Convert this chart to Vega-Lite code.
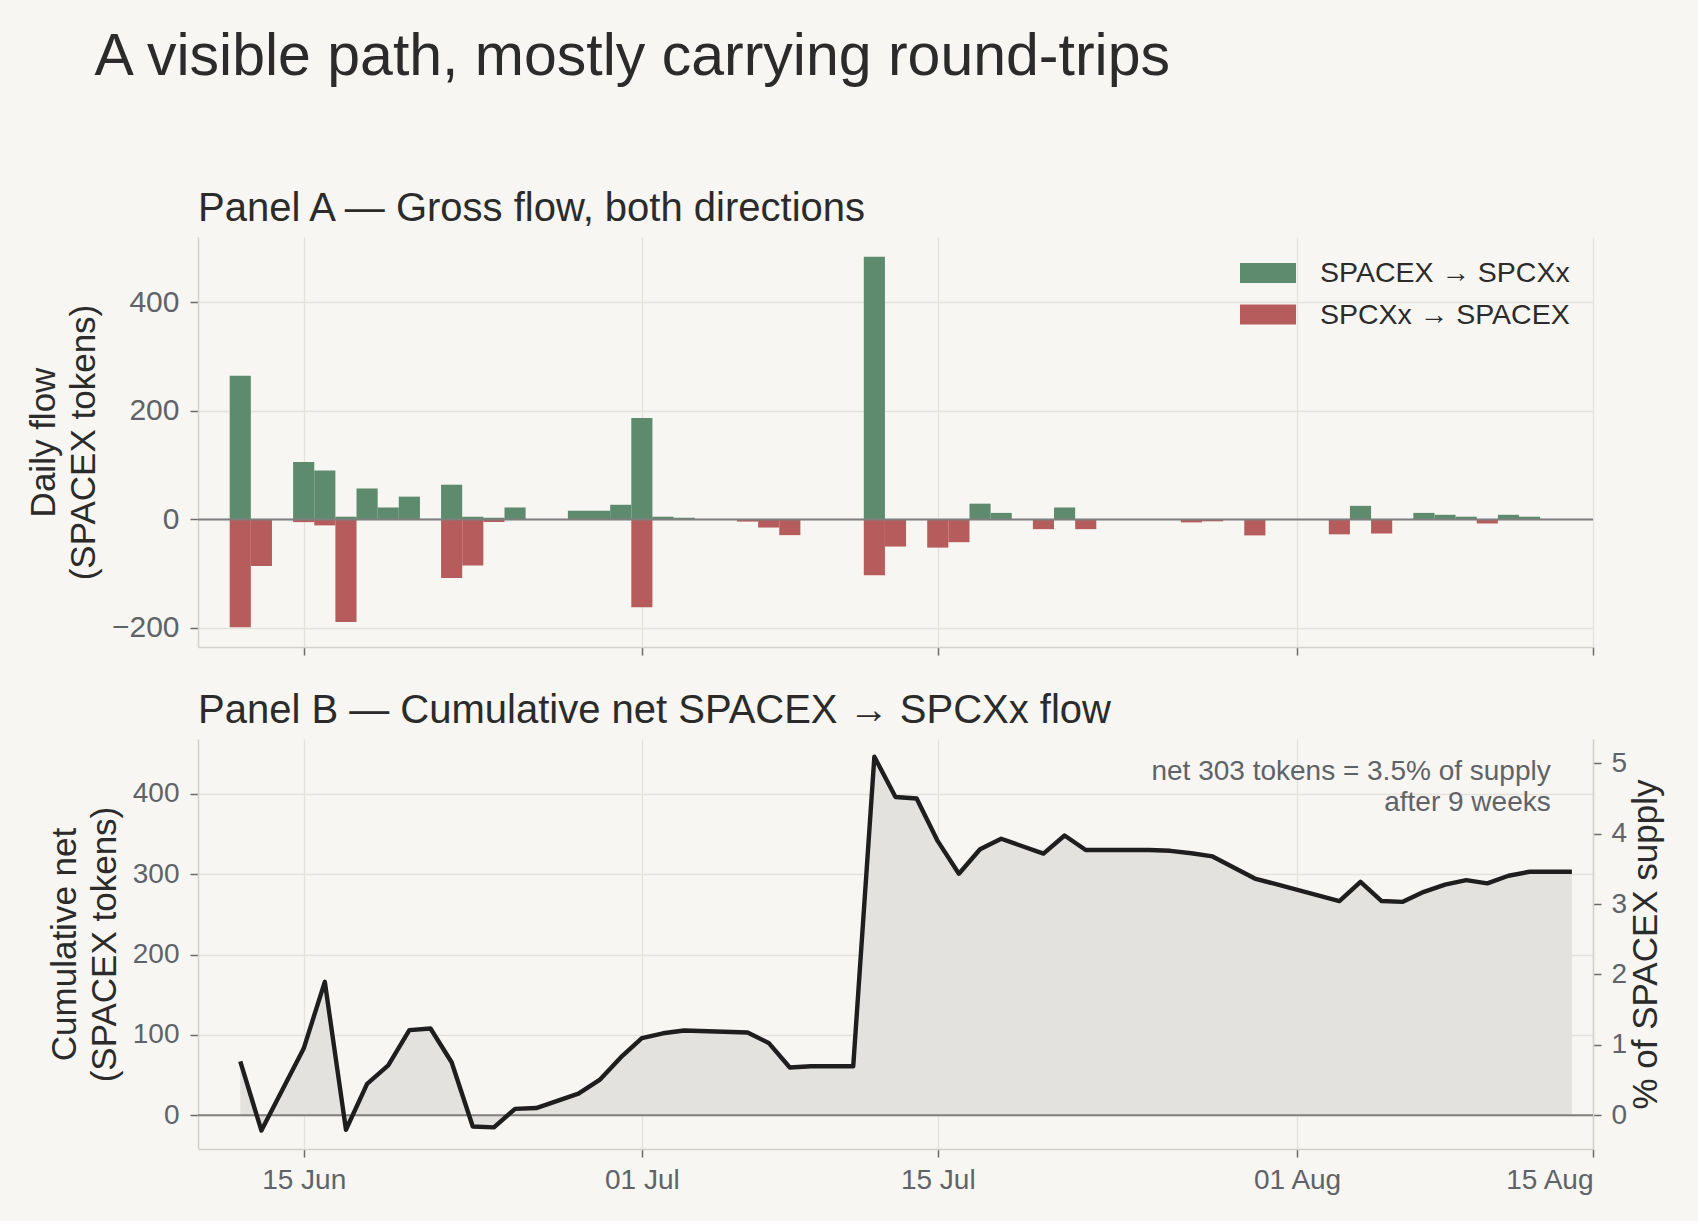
{
  "$schema": "https://vega.github.io/schema/vega-lite/v6.json",
  "background": "#f7f6f2",
  "padding": {"left": 26, "top": 28, "right": 34, "bottom": 27},
  "title": {
    "text": "A visible path, mostly carrying round-trips",
    "anchor": "start",
    "fontSize": 59,
    "dx": 68,
    "offset": 102
  },
  "datasets": {
    "flows": [
      {"date": "2025-06-12T00:00", "direction": "SPACEX → SPCXx", "flow": 265},
      {"date": "2025-06-12T00:00", "direction": "SPCXx → SPACEX", "flow": -199},
      {"date": "2025-06-13T00:00", "direction": "SPCXx → SPACEX", "flow": -86},
      {"date": "2025-06-15T00:00", "direction": "SPACEX → SPCXx", "flow": 106},
      {"date": "2025-06-15T00:00", "direction": "SPCXx → SPACEX", "flow": -5},
      {"date": "2025-06-16T00:00", "direction": "SPACEX → SPCXx", "flow": 90},
      {"date": "2025-06-16T00:00", "direction": "SPCXx → SPACEX", "flow": -11},
      {"date": "2025-06-17T00:00", "direction": "SPACEX → SPCXx", "flow": 5},
      {"date": "2025-06-17T00:00", "direction": "SPCXx → SPACEX", "flow": -189},
      {"date": "2025-06-18T00:00", "direction": "SPACEX → SPCXx", "flow": 57},
      {"date": "2025-06-19T00:00", "direction": "SPACEX → SPCXx", "flow": 22},
      {"date": "2025-06-20T00:00", "direction": "SPACEX → SPCXx", "flow": 42},
      {"date": "2025-06-21T00:00", "direction": "SPACEX → SPCXx", "flow": 1},
      {"date": "2025-06-22T00:00", "direction": "SPACEX → SPCXx", "flow": 64},
      {"date": "2025-06-22T00:00", "direction": "SPCXx → SPACEX", "flow": -108},
      {"date": "2025-06-23T00:00", "direction": "SPACEX → SPCXx", "flow": 5},
      {"date": "2025-06-23T00:00", "direction": "SPCXx → SPACEX", "flow": -85},
      {"date": "2025-06-24T00:00", "direction": "SPACEX → SPCXx", "flow": 3},
      {"date": "2025-06-24T00:00", "direction": "SPCXx → SPACEX", "flow": -5},
      {"date": "2025-06-25T00:00", "direction": "SPACEX → SPCXx", "flow": 22},
      {"date": "2025-06-28T00:00", "direction": "SPACEX → SPCXx", "flow": 16},
      {"date": "2025-06-29T00:00", "direction": "SPACEX → SPCXx", "flow": 16},
      {"date": "2025-06-30T00:00", "direction": "SPACEX → SPCXx", "flow": 27},
      {"date": "2025-07-01T00:00", "direction": "SPACEX → SPCXx", "flow": 187},
      {"date": "2025-07-01T00:00", "direction": "SPCXx → SPACEX", "flow": -162},
      {"date": "2025-07-02T00:00", "direction": "SPACEX → SPCXx", "flow": 5},
      {"date": "2025-07-03T00:00", "direction": "SPACEX → SPCXx", "flow": 3},
      {"date": "2025-07-06T00:00", "direction": "SPCXx → SPACEX", "flow": -4},
      {"date": "2025-07-07T00:00", "direction": "SPCXx → SPACEX", "flow": -15},
      {"date": "2025-07-08T00:00", "direction": "SPCXx → SPACEX", "flow": -29},
      {"date": "2025-07-12T00:00", "direction": "SPACEX → SPCXx", "flow": 484},
      {"date": "2025-07-12T00:00", "direction": "SPCXx → SPACEX", "flow": -103},
      {"date": "2025-07-13T00:00", "direction": "SPCXx → SPACEX", "flow": -50},
      {"date": "2025-07-15T00:00", "direction": "SPCXx → SPACEX", "flow": -52},
      {"date": "2025-07-16T00:00", "direction": "SPCXx → SPACEX", "flow": -42},
      {"date": "2025-07-17T00:00", "direction": "SPACEX → SPCXx", "flow": 29},
      {"date": "2025-07-18T00:00", "direction": "SPACEX → SPCXx", "flow": 12},
      {"date": "2025-07-20T00:00", "direction": "SPCXx → SPACEX", "flow": -18},
      {"date": "2025-07-21T00:00", "direction": "SPACEX → SPCXx", "flow": 22},
      {"date": "2025-07-22T00:00", "direction": "SPCXx → SPACEX", "flow": -18},
      {"date": "2025-07-27T00:00", "direction": "SPCXx → SPACEX", "flow": -5.5},
      {"date": "2025-07-28T00:00", "direction": "SPCXx → SPACEX", "flow": -3.5},
      {"date": "2025-07-30T00:00", "direction": "SPCXx → SPACEX", "flow": -29.5},
      {"date": "2025-08-03T00:00", "direction": "SPCXx → SPACEX", "flow": -27.5},
      {"date": "2025-08-04T00:00", "direction": "SPACEX → SPCXx", "flow": 25},
      {"date": "2025-08-05T00:00", "direction": "SPCXx → SPACEX", "flow": -26},
      {"date": "2025-08-07T00:00", "direction": "SPACEX → SPCXx", "flow": 12},
      {"date": "2025-08-08T00:00", "direction": "SPACEX → SPCXx", "flow": 8.5},
      {"date": "2025-08-09T00:00", "direction": "SPACEX → SPCXx", "flow": 5},
      {"date": "2025-08-10T00:00", "direction": "SPCXx → SPACEX", "flow": -7.5},
      {"date": "2025-08-11T00:00", "direction": "SPACEX → SPCXx", "flow": 8.5},
      {"date": "2025-08-12T00:00", "direction": "SPACEX → SPCXx", "flow": 5}
    ],
    "cumulative": [
      {"date": "2025-06-12T00:00", "net": 67},
      {"date": "2025-06-13T00:00", "net": -19},
      {"date": "2025-06-15T00:00", "net": 83},
      {"date": "2025-06-16T00:00", "net": 166},
      {"date": "2025-06-17T00:00", "net": -18},
      {"date": "2025-06-18T00:00", "net": 39},
      {"date": "2025-06-19T00:00", "net": 62},
      {"date": "2025-06-20T00:00", "net": 106},
      {"date": "2025-06-21T00:00", "net": 108},
      {"date": "2025-06-22T00:00", "net": 66},
      {"date": "2025-06-23T00:00", "net": -14},
      {"date": "2025-06-24T00:00", "net": -15},
      {"date": "2025-06-25T00:00", "net": 8},
      {"date": "2025-06-26T00:00", "net": 9},
      {"date": "2025-06-28T00:00", "net": 27},
      {"date": "2025-06-29T00:00", "net": 44},
      {"date": "2025-06-30T00:00", "net": 72},
      {"date": "2025-07-01T00:00", "net": 96},
      {"date": "2025-07-02T00:00", "net": 102},
      {"date": "2025-07-03T00:00", "net": 105.5},
      {"date": "2025-07-06T00:00", "net": 103},
      {"date": "2025-07-07T00:00", "net": 90},
      {"date": "2025-07-08T00:00", "net": 59.5},
      {"date": "2025-07-09T00:00", "net": 61},
      {"date": "2025-07-11T00:00", "net": 61},
      {"date": "2025-07-12T00:00", "net": 446},
      {"date": "2025-07-13T00:00", "net": 396},
      {"date": "2025-07-14T00:00", "net": 394},
      {"date": "2025-07-15T00:00", "net": 341},
      {"date": "2025-07-16T00:00", "net": 300.5},
      {"date": "2025-07-17T00:00", "net": 331},
      {"date": "2025-07-18T00:00", "net": 344},
      {"date": "2025-07-20T00:00", "net": 325.5},
      {"date": "2025-07-21T00:00", "net": 348},
      {"date": "2025-07-22T00:00", "net": 330},
      {"date": "2025-07-25T00:00", "net": 330},
      {"date": "2025-07-26T00:00", "net": 329},
      {"date": "2025-07-27T00:00", "net": 326},
      {"date": "2025-07-28T00:00", "net": 322},
      {"date": "2025-07-30T00:00", "net": 294.5},
      {"date": "2025-08-03T00:00", "net": 266.5},
      {"date": "2025-08-04T00:00", "net": 290.5},
      {"date": "2025-08-05T00:00", "net": 266.5},
      {"date": "2025-08-06T00:00", "net": 265.5},
      {"date": "2025-08-07T00:00", "net": 278},
      {"date": "2025-08-08T00:00", "net": 287},
      {"date": "2025-08-09T00:00", "net": 292.5},
      {"date": "2025-08-10T00:00", "net": 288.5},
      {"date": "2025-08-11T00:00", "net": 298},
      {"date": "2025-08-12T00:00", "net": 303},
      {"date": "2025-08-14T00:00", "net": 303}
    ],
    "note": [
      {"date": "2025-08-13T00:00", "net": 417, "label": "net 303 tokens = 3.5% of supply"},
      {"date": "2025-08-13T00:00", "net": 378.5, "label": "after 9 weeks"}
    ]
  },
  "spacing": 35,
  "vconcat": [
    {
      "title": {"text": "Panel A — Gross flow, both directions", "anchor": "start", "frame": "group", "fontSize": 40, "offset": 8},
      "width": 1395,
      "height": 410,
      "encoding": {
        "x": {
          "field": "date",
          "type": "temporal",
          "title": null,
          "scale": {"domain": [{"year": 2025, "month": 6, "date": 10}, {"year": 2025, "month": 8, "date": 15}], "padding": 0},
          "axis": {
            "labels": false,
            "values": [
              {"year": 2025, "month": 6, "date": 15},
              {"year": 2025, "month": 7, "date": 1},
              {"year": 2025, "month": 7, "date": 15},
              {"year": 2025, "month": 8, "date": 1},
              {"year": 2025, "month": 8, "date": 15}
            ]
          }
        }
      },
      "layer": [
        {
          "data": {"name": "flows"},
          "mark": {"type": "bar", "width": 21.14},
          "encoding": {
            "y": {
              "field": "flow",
              "type": "quantitative",
              "title": ["Daily flow", "(SPACEX tokens)"],
              "scale": {"domain": [-235.2, 520.6], "nice": false, "zero": false},
              "axis": {
                "titleLineHeight": 40,
                "titlePadding": 10,
                "values": [-200, 0, 200, 400],
                "labelFontSize": 30,
                "labelPadding": 11
              }
            },
            "color": {
              "field": "direction",
              "type": "nominal",
              "scale": {"domain": ["SPACEX → SPCXx", "SPCXx → SPACEX"], "range": ["#5e8b6d", "#b75c5c"]},
              "legend": {
                "title": null,
                "orient": "none",
                "legendX": 1050,
                "legendY": 16,
                "symbolType": "M-1.4,-0.5H1.4V0.5H-1.4Z",
                "symbolSize": 1600,
                "symbolStrokeWidth": 0,
                "labelFontSize": 28.5,
                "labelColor": "#2b2b2b",
                "labelLimit": 0,
                "labelOffset": 32,
                "rowPadding": 6.5,
                "padding": 0
              }
            }
          }
        },
        {
          "data": {"values": [{"zero": 0}]},
          "mark": {"type": "rule", "color": "#7f7f7f", "strokeWidth": 2},
          "encoding": {
            "x": null,
            "y": {"field": "zero", "type": "quantitative", "title": ["Daily flow", "(SPACEX tokens)"]}
          }
        }
      ]
    },
    {
      "title": {"text": "Panel B — Cumulative net SPACEX → SPCXx flow", "anchor": "start", "frame": "group", "fontSize": 40, "offset": 8},
      "width": 1395,
      "height": 410,
      "layer": [
        {
          "encoding": {
            "x": {
              "field": "date",
              "type": "temporal",
              "title": null,
              "scale": {"domain": [{"year": 2025, "month": 6, "date": 10}, {"year": 2025, "month": 8, "date": 15}], "padding": 0},
              "axis": {
                "format": "%d %b",
                "labelFontSize": 28,
                "labelPadding": 9,
                "values": [
                  {"year": 2025, "month": 6, "date": 15},
                  {"year": 2025, "month": 7, "date": 1},
                  {"year": 2025, "month": 7, "date": 15},
                  {"year": 2025, "month": 8, "date": 1},
                  {"year": 2025, "month": 8, "date": 15}
                ]
              }
            },
            "y": {
              "field": "net",
              "type": "quantitative",
              "title": ["Cumulative net", "(SPACEX tokens)"],
              "scale": {"domain": [-41.95, 468.1], "nice": false, "zero": false},
              "axis": {
                "titleLineHeight": 40,
                "titlePadding": 10,
                "values": [0, 100, 200, 300, 400],
                "labelFontSize": 28,
                "labelPadding": 11
              }
            }
          },
          "layer": [
            {
              "data": {"name": "cumulative"},
              "mark": {"type": "area", "color": "#e3e2de", "opacity": 1}
            },
            {
              "data": {"values": [{"net": 0}]},
              "mark": {"type": "rule", "color": "#7f7f7f", "strokeWidth": 2},
              "encoding": {"x": null}
            },
            {
              "data": {"name": "cumulative"},
              "mark": {"type": "line", "color": "#1e1e1e", "strokeWidth": 4.4, "strokeJoin": "round"}
            },
            {
              "data": {"name": "note"},
              "mark": {"type": "text", "align": "right", "baseline": "alphabetic", "fontSize": 28, "color": "#5f6368"},
              "encoding": {"text": {"field": "label"}}
            }
          ]
        },
        {
          "data": {"values": [{"pct": 0}]},
          "mark": {"type": "rule", "opacity": 0},
          "encoding": {
            "y": {
              "field": "pct",
              "type": "quantitative",
              "title": "% of SPACEX supply",
              "scale": {"domain": [-0.479, 5.344], "nice": false, "zero": false},
              "axis": {
                "orient": "right",
                "titleAngle": 270,
                "titleBaseline": "top",
                "titlePadding": 2,
                "values": [0, 1, 2, 3, 4, 5],
                "labelFontSize": 28,
                "labelPadding": 10,
                "grid": false
              }
            }
          }
        }
      ],
      "resolve": {"scale": {"y": "independent"}}
    }
  ],
  "config": {
    "font": "Liberation Sans",
    "view": {"stroke": null},
    "title": {"font": "Liberation Sans", "fontWeight": "normal", "color": "#2b2b2b"},
    "axis": {
      "labelFont": "Liberation Sans",
      "labelColor": "#5f6368",
      "tickColor": "#6b6b6b",
      "tickSize": 8,
      "tickWidth": 1.5,
      "domainColor": "#d3d1cc",
      "domainWidth": 1.5,
      "grid": true,
      "gridColor": "#e4e2dd",
      "gridWidth": 1.3,
      "titleFont": "Liberation Sans",
      "titleFontSize": 35,
      "titleFontWeight": "normal",
      "titleColor": "#2b2b2b"
    },
    "legend": {"labelFont": "Liberation Sans"}
  }
}
